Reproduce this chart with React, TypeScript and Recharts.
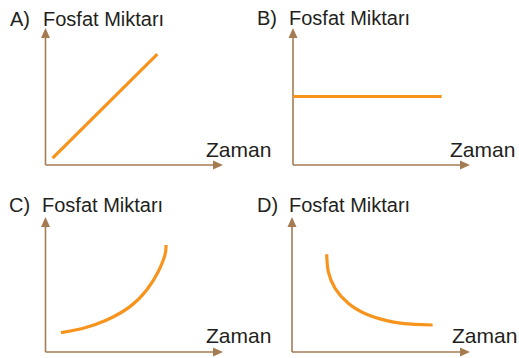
import { LineChart, Line, XAxis, YAxis, ReferenceLine } from 'recharts';

// values, each axis runs 0..100
const lineA = [
  { x: 4, y: 5 },
  { x: 63, y: 81 },
];
const lineB = [
  { x: 0, y: 50 },
  { x: 84, y: 50 },
];
const curveC = [
  { x: 8.7, y: 14.3 },
  { x: 21.3, y: 17.6 },
  { x: 34.5, y: 23.7 },
  { x: 47.6, y: 33.6 },
  { x: 57, y: 45.9 },
  { x: 63.5, y: 59.5 },
  { x: 67.3, y: 71.9 },
  { x: 67.9, y: 79.3 },
];
const curveD = [
  { x: 19.5, y: 72.4 },
  { x: 20.4, y: 59.5 },
  { x: 24.2, y: 47.2 },
  { x: 31.6, y: 36.1 },
  { x: 42.9, y: 27.4 },
  { x: 57.9, y: 22 },
  { x: 69.1, y: 20.5 },
  { x: 79, y: 20 },
];

const letters = ['A)', 'B)', 'C)', 'D)'];
const yTitle = 'Fosfat Miktarı';
const xTitle = 'Zaman';

const W = 519;
const H = 358;
const AXIS = '#a57c52';
const ORANGE = '#f7941d';
const INK = '#231f20';
const FONT = '"Liberation Sans", Arial, sans-serif';

const Arrow = (props: any) => {
  const { x1, y1, x2, y2 } = props;
  const dx = x2 - x1;
  const dy = y2 - y1;
  const len = Math.sqrt(dx * dx + dy * dy) || 1;
  const ux = dx / len;
  const uy = dy / len;
  const head = 10;
  const half = 4.5;
  const bx = x2 - ux * head;
  const by = y2 - uy * head;
  const pts = `${x2},${y2} ${bx - uy * half},${by + ux * half} ${bx + uy * half},${by - ux * half}`;
  return (
    <g>
      <line x1={x1} y1={y1} x2={bx + ux} y2={by + uy} stroke={AXIS} strokeWidth={1.6} />
      <polygon points={pts} fill={AXIS} />
    </g>
  );
};

type PanelProps = {
  data: { x: number; y: number }[];
  curve: 'linear' | 'natural';
  letter: string;
  box: { left: number; top: number; right: number; bottom: number };
  letterX: number;
  titleX: number;
  titleY: number;
  zamanX: number;
  zamanY: number;
};

const Panel = ({ data, curve, letter, box, letterX, titleX, titleY, zamanX, zamanY }: PanelProps) => (
  <div style={{ position: 'absolute', left: 0, top: 0 }}>
    <LineChart
      width={W}
      height={H}
      data={data}
      margin={{ left: box.left, top: box.top, right: W - box.right, bottom: H - box.bottom }}
    >
      <XAxis type="number" dataKey="x" domain={[0, 100]} hide />
      <YAxis type="number" domain={[0, 100]} hide />
      <ReferenceLine segment={[{ x: 0, y: 0 }, { x: 100, y: 0 }]} ifOverflow="visible" shape={Arrow} />
      <ReferenceLine segment={[{ x: 0, y: 0 }, { x: 0, y: 100 }]} ifOverflow="visible" shape={Arrow} />
      <Line
        type={curve}
        dataKey="y"
        stroke={ORANGE}
        strokeWidth={3.2}
        dot={false}
        activeDot={false}
        isAnimationActive={false}
      />
      <text x={letterX} y={titleY} fontFamily={FONT} fontSize={20} fill={INK}>
        {letter}
      </text>
      <text x={titleX} y={titleY} fontFamily={FONT} fontSize={20} fill={INK}>
        {yTitle}
      </text>
      <text x={zamanX} y={zamanY} fontFamily={FONT} fontSize={21} fill={INK}>
        {xTitle}
      </text>
    </LineChart>
  </div>
);

export default function App() {
  return (
    <div style={{ position: 'absolute', left: 0, top: 0, width: W, height: H, background: '#fff' }}>
      <Panel
        data={lineA}
        curve="linear"
        letter={letters[0]}
        box={{ left: 45.5, top: 28, right: 223, bottom: 165 }}
        letterX={10}
        titleX={43}
        titleY={26}
        zamanX={206}
        zamanY={157}
      />
      <Panel
        data={lineB}
        curve="linear"
        letter={letters[1]}
        box={{ left: 293, top: 28, right: 470, bottom: 165 }}
        letterX={257}
        titleX={289}
        titleY={25}
        zamanX={450}
        zamanY={157}
      />
      <Panel
        data={curveC}
        curve="natural"
        letter={letters[2]}
        box={{ left: 45.5, top: 217, right: 223, bottom: 352 }}
        letterX={9}
        titleX={42}
        titleY={212}
        zamanX={206}
        zamanY={343}
      />
      <Panel
        data={curveD}
        curve="natural"
        letter={letters[3]}
        box={{ left: 292, top: 217, right: 470, bottom: 352 }}
        letterX={257}
        titleX={289}
        titleY={212}
        zamanX={452}
        zamanY={343}
      />
    </div>
  );
}
